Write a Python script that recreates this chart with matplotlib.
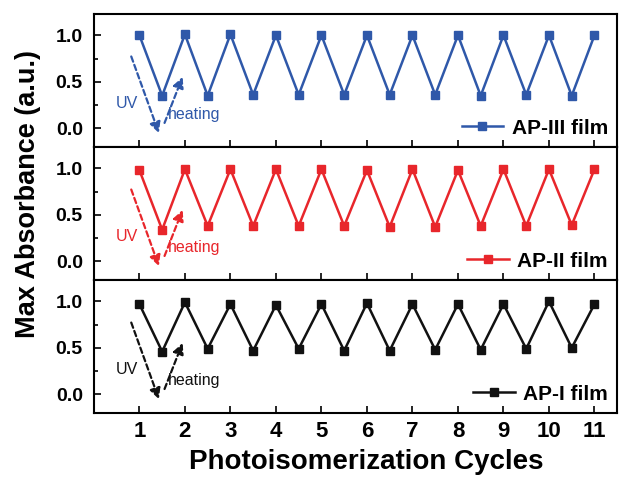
import numpy as np
import matplotlib.pyplot as plt
from matplotlib.ticker import MultipleLocator

plt.rcParams['font.family'] = ['Liberation Sans', 'DejaVu Sans']

# Photoisomerization cycles: half-steps (UV -> heating -> UV ...)
cycles = [1, 1.5, 2, 2.5, 3, 3.5, 4, 4.5, 5, 5.5, 6, 6.5, 7, 7.5, 8, 8.5, 9, 9.5, 10, 10.5, 11]

ap3_abs = [1.00, 0.35, 1.01, 0.35, 1.01, 0.36, 1.00, 0.36, 1.00, 0.36, 1.00, 0.36, 1.00,
           0.36, 1.00, 0.35, 1.00, 0.36, 1.00, 0.35, 1.00]
ap2_abs = [0.98, 0.34, 0.99, 0.38, 0.99, 0.38, 0.99, 0.38, 0.99, 0.38, 0.98, 0.37, 0.99,
           0.37, 0.98, 0.38, 0.99, 0.38, 0.99, 0.39, 0.99]
ap1_abs = [0.97, 0.46, 0.99, 0.49, 0.97, 0.47, 0.96, 0.49, 0.97, 0.47, 0.98, 0.47, 0.97,
           0.48, 0.97, 0.48, 0.97, 0.49, 1.00, 0.50, 0.97]

series = [("AP-III film", ap3_abs, "#2f58a9"),
          ("AP-II film", ap2_abs, "#e8262b"),
          ("AP-I film", ap1_abs, "#111111")]
xticks = list(range(1, 12))

fig, axes = plt.subplots(3, 1, figsize=(6.26, 4.78), dpi=100, sharex=True)
fig.subplots_adjust(left=0.150, right=0.986, top=0.971, bottom=0.136, hspace=0)

for ax, (name, vals, col) in zip(axes, series):
    ax.plot(cycles, vals, color=col, lw=1.8, marker='s', ms=5.5, label=name)
    ax.set_xlim(0, 11.5)
    ax.set_ylim(-0.2, 1.23)
    ax.yaxis.set_major_locator(MultipleLocator(0.5))
    ax.yaxis.set_minor_locator(MultipleLocator(0.25))
    ax.set_xticks(xticks)
    ax.tick_params(direction='in', which='both', length=5, width=1.2, labelsize=14, pad=8)
    ax.tick_params(which='minor', length=3)
    for lab in ax.get_yticklabels():
        lab.set_fontweight('bold')
    for s in ax.spines.values():
        s.set_linewidth(1.5)
    # dashed UV / heating arrows
    ax.annotate('', xy=(1.45, -0.08), xytext=(0.8, 0.8),
                arrowprops=dict(arrowstyle='-|>', ls=(0, (2.5, 1.5)), color=col, lw=1.6,
                                mutation_scale=16))
    ax.annotate('', xy=(1.97, 0.58), xytext=(1.53, 0.03),
                arrowprops=dict(arrowstyle='-|>', ls=(0, (2.5, 1.5)), color=col, lw=1.6,
                                mutation_scale=16))
    ax.text(0.72, 0.27, 'UV', color=col, fontsize=11.5, ha='center', va='center')
    ax.text(2.2, 0.15, 'heating', color=col, fontsize=11.5, ha='center', va='center')
    ax.legend(loc='lower right', frameon=False, handlelength=2.0,
              borderaxespad=0.05, handletextpad=0.4, prop={'weight': 'bold', 'size': 15})

axes[-1].set_xticklabels([str(t) for t in xticks], fontweight='bold', fontsize=16)
axes[-1].tick_params(axis='x', pad=6)
axes[-1].set_xlabel('Photoisomerization Cycles', fontsize=20, fontweight='bold')
axes[-1].xaxis.set_label_coords(0.52, -0.27)
fig.text(0.045, 0.595, 'Max Absorbance (a.u.)', rotation=90, fontsize=19.5, fontweight='bold',
         ha='center', va='center')

plt.savefig('out.png', dpi=100)
